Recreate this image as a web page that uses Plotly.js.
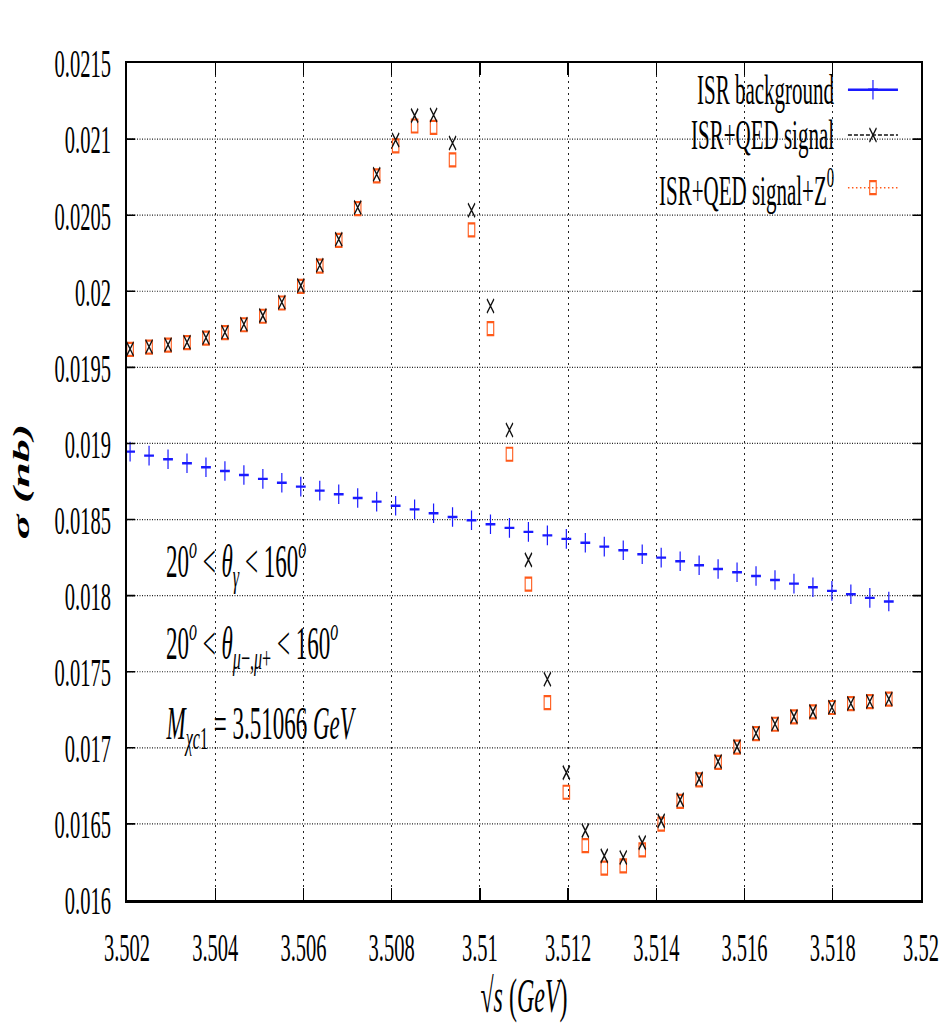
<!DOCTYPE html>
<html>
<head>
<meta charset="utf-8">
<script src="https://cdn.plot.ly/plotly-3.0.1.min.js"></script>
<style>
  html, body { margin: 0; padding: 0; background: #fff; overflow: hidden; }
  #plot { width: 1884px; height: 1023px; transform: scaleX(0.5); transform-origin: 0 0; }
</style>
</head>
<body>
<div id="plot"></div>
<script>
// sqrt(s) in GeV
const energy = [3.50207, 3.50250, 3.50293, 3.50336, 3.50379, 3.50422, 3.50465, 3.50508, 3.50551, 3.50594,
                3.50637, 3.50680, 3.50723, 3.50766, 3.50809, 3.50852, 3.50895, 3.50938, 3.50981, 3.51024,
                3.51067, 3.51110, 3.51153, 3.51196, 3.51239, 3.51282, 3.51325, 3.51368, 3.51411, 3.51454,
                3.51497, 3.51540, 3.51583, 3.51626, 3.51669, 3.51712, 3.51755, 3.51798, 3.51841, 3.51884,
                3.51927];
// sigma (nb)
const isrBackground = [0.018946, 0.018920, 0.018896, 0.018870, 0.018844, 0.018819, 0.018793, 0.018767, 0.018742, 0.018716,
                       0.018690, 0.018666, 0.018642, 0.018618, 0.018591, 0.018567, 0.018541, 0.018517, 0.018495, 0.018469,
                       0.018445, 0.018419, 0.018396, 0.018373, 0.018348, 0.018322, 0.018298, 0.018272, 0.018250, 0.018226,
                       0.018200, 0.018175, 0.018154, 0.018129, 0.018103, 0.018079, 0.018055, 0.018031, 0.018009, 0.017985,
                       0.017961];
const qedSignal = [0.019621, 0.019636, 0.019649, 0.019665, 0.019695, 0.019731, 0.019783, 0.019840, 0.019928, 0.020037,
                   0.020171, 0.020342, 0.020551, 0.020769, 0.020994, 0.021154, 0.021158, 0.020974, 0.020532, 0.019903,
                   0.019089, 0.018235, 0.017451, 0.016837, 0.016456, 0.016290, 0.016279, 0.016377, 0.016520, 0.016658,
                   0.016796, 0.016910, 0.017008, 0.017096, 0.017157, 0.017205, 0.017238, 0.017267, 0.017291, 0.017304,
                   0.017321];
const qedSignalZ0 = [0.019618, 0.019633, 0.019646, 0.019662, 0.019692, 0.019728, 0.019780, 0.019836, 0.019923, 0.020032,
                     0.020165, 0.020335, 0.020543, 0.020758, 0.020955, 0.021086, 0.021077, 0.020863, 0.020403, 0.019754,
                     0.018929, 0.018075, 0.017297, 0.016708, 0.016357, 0.016209, 0.016224, 0.016329, 0.016498, 0.016648,
                     0.016790, 0.016905, 0.017004, 0.017093, 0.017155, 0.017203, 0.017236, 0.017265, 0.017290, 0.017303,
                     0.017320];

const seriesNames = ['ISR background', 'ISR+QED signal', 'ISR+QED signal+Z<sup>0</sup>'];
const seriesColors = ['#1a1aff', '#111111', '#ff5a1a'];

const xTickVals = [3.502, 3.504, 3.506, 3.508, 3.510, 3.512, 3.514, 3.516, 3.518, 3.520];
const xTickText = ['3.502', '3.504', '3.506', '3.508', '3.51', '3.512', '3.514', '3.516', '3.518', '3.52'];
const yTickVals = [0.016, 0.0165, 0.017, 0.0175, 0.018, 0.0185, 0.019, 0.0195, 0.020, 0.0205, 0.021, 0.0215];
const yTickText = ['0.016', '0.0165', '0.017', '0.0175', '0.018', '0.0185', '0.019', '0.0195', '0.02', '0.0205', '0.021', '0.0215'];

const cutLabels = [
  '20<sup><i>o</i></sup> &lt; <i>θ</i><sub><i>γ</i></sub> &lt; 160<sup><i>o</i></sup>',
  '20<sup><i>o</i></sup> &lt; <i>θ</i><sub><i>μ</i>−,<i>μ</i>+</sub> &lt; 160<sup><i>o</i></sup>',
  '<i>M</i><sub><i>χc</i>1</sub> = 3.51066 <i>GeV</i>'
];

const FONT = 'Liberation Serif';
const symbols = ['cross-thin-open', 'x-thin-open', 'square-open'];
const sizes = [14, 14, 13];
const lw = [2.4, 2.2, 2.2];

const traces = [
  {x: energy, y: isrBackground, name: seriesNames[0], mode: 'markers', showlegend: false,
   marker: {symbol: symbols[0], size: sizes[0], color: seriesColors[0], line: {color: seriesColors[0], width: lw[0]}}},
  {x: energy, y: qedSignalZ0, name: seriesNames[2], mode: 'markers', showlegend: false,
   marker: {symbol: symbols[2], size: sizes[2], color: seriesColors[2], line: {color: seriesColors[2], width: lw[2]}}},
  {x: energy, y: qedSignal, name: seriesNames[1], mode: 'markers', showlegend: false,
   marker: {symbol: symbols[1], size: sizes[1], color: seriesColors[1], line: {color: seriesColors[1], width: lw[1]}}}
];

// legend keys (drawn on an overlay axis spanning the plot area 0..1)
const legendRowY = [0.968, 0.914, 0.851];
const legendKeyX0 = 0.908, legendKeyX1 = 0.971, legendKeyXm = 0.9395, legendTextX = 0.892;
const legendDash = ['solid', '8px,4px', '3px,5px'];
const shapes = [
  {type: 'rect', xref: 'paper', yref: 'paper', x0: 0.617, x1: 0.982, y0: 0.826, y1: 1.0,
   fillcolor: '#ffffff', line: {width: 0}, layer: 'between'}
];
const annotations = [];
for (let i = 0; i < 3; i++) {
  shapes.push({type: 'line', xref: 'paper', yref: 'paper', x0: legendKeyX0, x1: legendKeyX1,
    y0: legendRowY[i], y1: legendRowY[i], line: {color: seriesColors[i], width: i === 0 ? 2.4 : 1.6, dash: legendDash[i]}, layer: 'above'});
  traces.push({x: [legendKeyXm], y: [legendRowY[i]], xaxis: 'x2', yaxis: 'y2', mode: 'markers', showlegend: false,
    hoverinfo: 'skip', cliponaxis: false,
    marker: {symbol: symbols[i], size: sizes[i], color: seriesColors[i], line: {color: seriesColors[i], width: lw[i]}}});
  annotations.push({xref: 'paper', yref: 'paper', x: legendTextX, y: legendRowY[i], xanchor: 'right', yanchor: 'middle',
    text: seriesNames[i], showarrow: false, font: {family: FONT, size: 42, color: '#000'}});
}
const cutY = [0.405, 0.306, 0.207];
for (let i = 0; i < 3; i++) {
  annotations.push({xref: 'paper', yref: 'paper', x: 0.048, y: cutY[i], xanchor: 'left', yanchor: 'middle',
    text: cutLabels[i], showarrow: false, font: {family: FONT, size: 46, color: '#000'}});
}

const layout = {
  width: 1884, height: 1023,
  margin: {l: 254, r: 42, t: 63, b: 123},
  paper_bgcolor: '#fff', plot_bgcolor: '#fff',
  font: {family: FONT, size: 41, color: '#000'},
  showlegend: false,
  xaxis: {
    range: [3.502, 3.52], tickmode: 'array', tickvals: xTickVals, ticktext: xTickText,
    ticks: 'inside', ticklen: 12, tickwidth: 2.6, tickcolor: '#000',
    showline: true, linewidth: 2.5, linecolor: '#000', mirror: 'ticks',
    showgrid: true, gridcolor: '#222', gridwidth: 2, griddash: '2px,4px', zeroline: false,
    tickfont: {family: FONT, size: 41, color: '#000'}, ticklabelstandoff: 9,
    title: {text: '√<i>s</i> (<i>GeV</i>)', font: {family: FONT, size: 48, color: '#000'}, standoff: 16}
  },
  yaxis: {
    range: [0.016, 0.0215], tickmode: 'array', tickvals: yTickVals, ticktext: yTickText,
    ticks: 'inside', ticklen: 16, tickwidth: 1.6, tickcolor: '#000',
    showline: true, linewidth: 4, linecolor: '#000', mirror: 'ticks',
    showgrid: true, gridcolor: '#222', gridwidth: 1.2, griddash: '2px,3px', zeroline: false,
    tickfont: {family: FONT, size: 41, color: '#000'}, ticklabelstandoff: 20,
    title: {text: '<b><i>σ (nb)</i></b>', font: {family: FONT, size: 46, color: '#000'}, standoff: 36}
  },
  xaxis2: {overlaying: 'x', range: [0, 1], visible: false, fixedrange: true},
  yaxis2: {overlaying: 'y', range: [0, 1], visible: false, fixedrange: true},
  shapes: shapes,
  annotations: annotations
};

Plotly.newPlot('plot', traces, layout, {displayModeBar: false, staticPlot: true});
</script>
</body>
</html>
